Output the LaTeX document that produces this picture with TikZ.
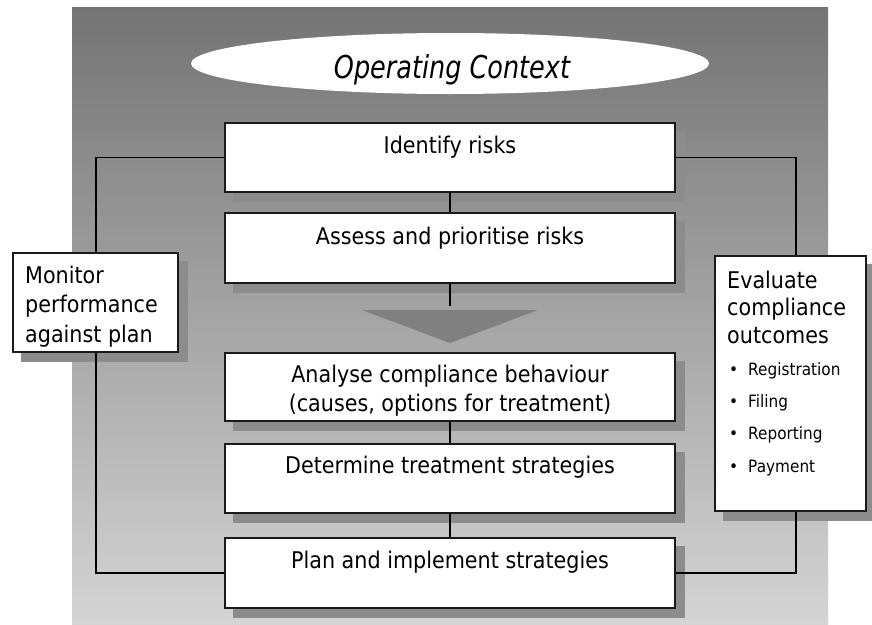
\documentclass[tikz,border=0pt]{standalone}
\usepackage{fontspec}
\setmainfont[FakeStretch=0.9]{DejaVu Sans}
\newfontfamily\ctxfont[FakeStretch=0.81]{DejaVu Sans}
\usetikzlibrary{shapes.geometric}
\definecolor{bgtop}{HTML}{747474}
\definecolor{bgbot}{HTML}{D4D4D4}
\definecolor{shadowgray}{HTML}{8C8C8C}
\definecolor{arrowgray}{HTML}{808080}
\definecolor{edgegray}{HTML}{1A1A1A}
\pgfdeclarelayer{background}
\pgfsetlayers{background,main}
\begin{document}
\begin{tikzpicture}[x=1pt,y=-1pt,
  box/.style={draw=edgegray, line width=1.3pt, fill=white, rectangle, inner sep=0pt},
  boxtext/.style={font=\fontsize{23}{28.5}\selectfont, inner sep=0pt, anchor=base, align=center},
  sidetext/.style={font=\fontsize{23}{28.5}\selectfont, inner sep=0pt, anchor=base west, align=left},
  link/.style={draw=black, line width=1.2pt},
  shadowfill/.style={fill=shadowgray},
]
\useasboundingbox (0,0) rectangle (872,624);

% boxes
\node[box, minimum width=450pt, minimum height=69pt] (identify) at (450,157.5) {};
\node[box, minimum width=450pt, minimum height=70pt] (assess) at (450,248) {};
\node[box, minimum width=450pt, minimum height=68pt] (analyse) at (450,387) {};
\node[box, minimum width=450pt, minimum height=69pt] (determine) at (450,478.5) {};
\node[box, minimum width=450pt, minimum height=70pt] (plan) at (450,573) {};
\node[box, minimum width=165pt, minimum height=99pt] (monitor) at (95.5,302.5) {};
\node[box, minimum width=151pt, minimum height=255pt] (evaluate) at (790.5,383.5) {};

% ellipse
\node[ellipse, fill=white, minimum width=518pt, minimum height=61pt, inner sep=0pt] (context) at (450,63.5) {};
\node[inner sep=0pt, anchor=base, font=\ctxfont\itshape\fontsize{31.5}{36}\selectfont] (contexttext) at (452,78) {Operating Context};

% texts (multi-line nodes: base = baseline of last line)
\node[boxtext] (t1) at (450,153) {Identify risks};
\node[boxtext] (t2) at (450,244) {Assess and prioritise risks};
\node[boxtext] (t3) at (450,411) {Analyse compliance behaviour\\(causes, options for treatment)};
\node[boxtext] (t4) at (450,473) {Determine treatment strategies};
\node[boxtext] (t5) at (450,568) {Plan and implement strategies};
\node[sidetext, font=\fontsize{23}{29.5}\selectfont] (t6) at (25,342) {Monitor\\performance\\against plan};
\node[sidetext, font=\fontsize{23}{27.5}\selectfont] (t7) at (727,343) {Evaluate\\compliance\\outcomes};
\node[sidetext, font=\fontsize{17}{32.3}\selectfont] (t8) at (729,472)
  {\makebox[19pt][l]{\textbullet}Registration\\
   \makebox[19pt][l]{\textbullet}Filing\\
   \makebox[19pt][l]{\textbullet}Reporting\\
   \makebox[19pt][l]{\textbullet}Payment};

\coordinate (lx) at (96,0);
\coordinate (rx) at (796,0);
\coordinate (arrtop) at (450,306);

\begin{pgfonlayer}{background}
  \shade[top color=bgtop, bottom color=bgbot] (72,7) rectangle (828,624);
  \foreach \n in {identify,assess,analyse,determine,plan,monitor,evaluate}
    \fill[shadowfill] ([xshift=9pt,yshift=-9pt]\n.south west) rectangle ([xshift=9pt,yshift=-9pt]\n.north east);
  \fill[arrowgray] (362,310) -- (538,310) -- (450,343) -- cycle;
  \draw[link] (identify.south) -- (assess.north);
  \draw[link] (assess.south) -- (arrtop);
  \draw[link] (analyse.south) -- (determine.north);
  \draw[link] (determine.south) -- (plan.north);
  \draw[link] (identify.west) -- (identify.west -| lx) |- (plan.west);
  \draw[link] (identify.east) -- (identify.east -| rx) |- (plan.east);
\end{pgfonlayer}
\end{tikzpicture}
\end{document}
